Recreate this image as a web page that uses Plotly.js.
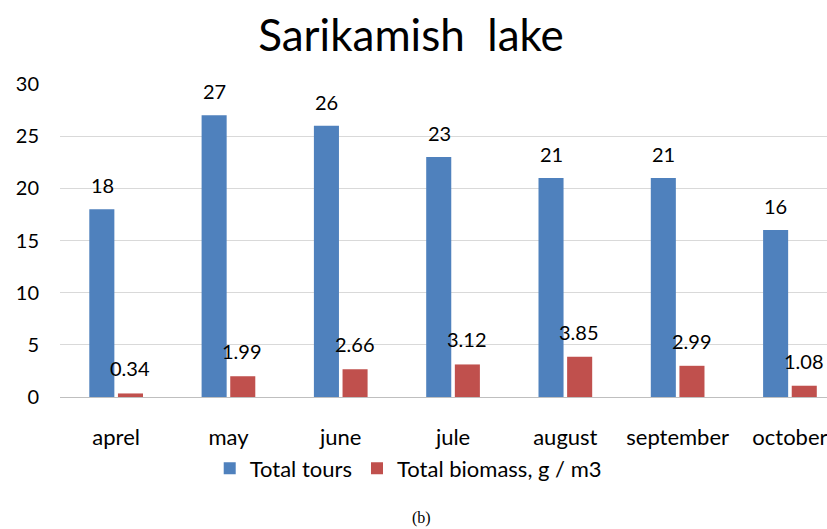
<!DOCTYPE html>
<html>
<head>
<meta charset="utf-8">
<script src="https://cdn.plot.ly/plotly-3.0.1.min.js"></script>
<style>html,body{margin:0;padding:0;background:#fff;}#chart{width:827px;height:529px;}</style>
</head>
<body>
<div id="chart"></div>
<script>
const months = ["aprel", "may", "june", "jule", "august", "september", "october"];
const totalTours = [18, 27, 26, 23, 21, 21, 16];
const totalBiomass = [0.34, 1.99, 2.66, 3.12, 3.85, 2.99, 1.08];
const seriesNames = ["Total tours", "Total biomass, g / m3"];
const colors = ["#4F81BD", "#C0504D"];
const FONT = "Lato, 'Open Sans', sans-serif";

const traces = [
  {type: "bar", name: seriesNames[0], x: months, y: totalTours, marker: {color: colors[0]}, hoverinfo: "skip"},
  {type: "bar", name: seriesNames[1], x: months, y: totalBiomass, marker: {color: colors[1]}, hoverinfo: "skip"}
];

const annotations = [];
months.forEach((m, i) => {
  annotations.push({x: i, y: totalTours[i], xref: "x", yref: "y", text: String(totalTours[i]),
    showarrow: false, yanchor: "middle", yshift: 24, xshift: -14, font: {size: 20, color: "#000", family: FONT}});
  annotations.push({x: i, y: totalBiomass[i], xref: "x", yref: "y", text: totalBiomass[i].toFixed(2),
    showarrow: false, yanchor: "middle", yshift: 25, xshift: 14, font: {size: 20, color: "#000", family: FONT}});
});
annotations.push({x: 0.5, y: 0, xref: "paper", yref: "paper", yanchor: "middle", yshift: -121, xshift: -22,
  text: "(b)", showarrow: false, font: {size: 16, color: "#000", family: "'Liberation Serif', serif"}});

const layout = {
  width: 827, height: 529,
  margin: {l: 60, r: 0, t: 84, b: 132, autoexpand: false},
  paper_bgcolor: "#fff", plot_bgcolor: "#fff",
  font: {family: FONT, color: "#000", size: 20},
  title: {text: "Sarikamish  lake", x: 0.497, xanchor: "center", y: 0.932, yanchor: "middle",
    font: {size: 44, family: FONT, color: "#000"}},
  barmode: "group", bargap: 0.49, bargroupgap: 0.125,
  xaxis: {type: "category", range: [-0.5, 6.33], showgrid: false, showline: true, linecolor: "#bfbfbf",
    linewidth: 1, ticks: "", ticklabelstandoff: 21, tickfont: {size: 22}, fixedrange: true},
  yaxis: {range: [0, 30], dtick: 5, showgrid: true, gridcolor: "#d9d9d9", gridwidth: 1, zeroline: false,
    showline: false, ticks: "", ticklabelstandoff: 20, tickfont: {size: 20}, fixedrange: true},
  legend: {orientation: "h", x: 0.454, xanchor: "center", y: -0.161, yanchor: "top",
    bgcolor: "rgba(0,0,0,0)", font: {size: 22}, traceorder: "normal", itemwidth: 30},
  showlegend: true,
  annotations: annotations
};

Plotly.newPlot("chart", traces, layout, {displayModeBar: false, staticPlot: true});
</script>
</body>
</html>
